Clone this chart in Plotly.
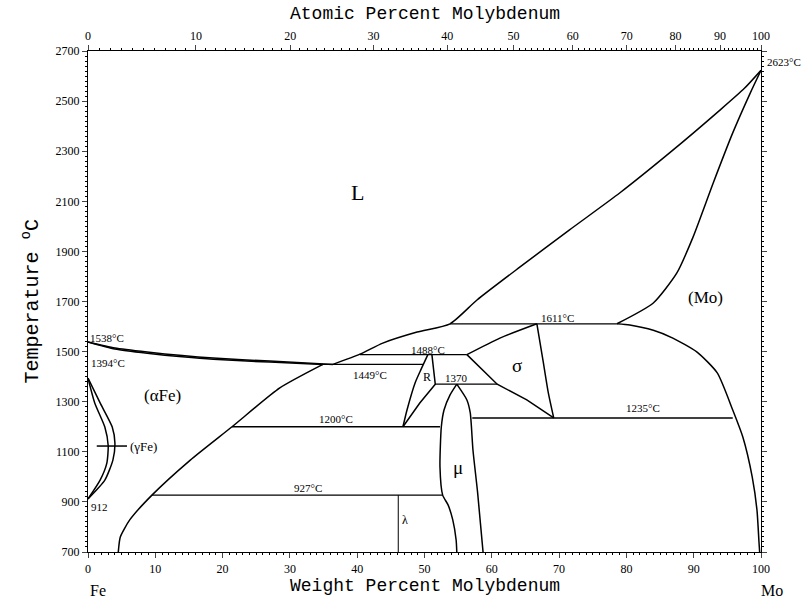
import plotly.graph_objects as go

# ---------------- data (weight % Mo, temperature °C) ----------------
liq_fe_wt = [0, 4, 8.8, 14, 18.6, 27, 36.4]
liq_fe_T = [1538, 1514, 1498, 1484, 1474, 1462, 1449]

sol_fe_wt = [0, 4, 8.8, 14, 18.6, 27, 34.9]
sol_fe_T = [1538, 1510, 1493, 1479, 1469, 1458, 1449]

liq_wt = [36.4, 40.4, 43.8, 48.9, 53.8, 57.8, 64.2, 71.5, 79.0, 86.5, 93.9, 97.5, 100]
liq_T = [1449, 1490, 1534, 1578, 1611, 1706, 1838, 1985, 2133, 2295, 2464, 2550, 2623]

mo_sol_wt = [78.6, 84.0, 87.5, 89.9, 92.9, 95.8, 98.4, 100]
mo_sol_T = [1611, 1694, 1814, 1957, 2173, 2373, 2532, 2623]

mo_solv_wt = [78.6, 80.5, 84.0, 86.9, 90.5, 93.5, 95.8, 97.3, 98.7, 99.4, 99.7, 99.8]
mo_solv_T = [1611, 1606, 1585, 1554, 1498, 1415, 1267, 1159, 999, 868, 740, 700]

afe_solv_wt = [4.5, 4.8, 6.2, 9.5, 15.2, 21.4, 28.5, 34.9]
afe_solv_T = [700, 760, 828, 927, 1067, 1200, 1355, 1449]

gam_out_wt = [0, 1.8, 3.6, 4.0, 3.7, 2.5, 0]
gam_out_T = [1394, 1295, 1199, 1135, 1067, 987, 912]
gam_in_wt = [0, 1.0, 2.5, 3.0, 2.8, 1.8, 0]
gam_in_T = [1394, 1295, 1199, 1125, 1055, 987, 912]
gam_tick_wt = [1.3, 5.8]
gam_tick_T = [1123, 1123]

r_left_wt = [50.5, 49.5, 48.6, 47.4, 46.8]
r_left_T = [1488, 1430, 1375, 1267, 1200]
r_right_wt = [51.1, 51.6, 49.3, 46.8]
r_right_T = [1488, 1370, 1295, 1200]

mu_left_wt = [54.8, 53.8, 52.9, 52.5, 52.3, 52.7, 53.5, 54.2, 54.7, 54.8]
mu_left_T = [1370, 1327, 1267, 1200, 1039, 927, 888, 828, 748, 700]
mu_right_wt = [54.8, 56.3, 56.8, 57.2, 57.9, 58.7]
mu_right_T = [1370, 1307, 1255, 1107, 935, 700]

sig_top_wt = [56.3, 61.2, 66.7]
sig_top_T = [1488, 1554, 1611]
sig_right_wt = [66.7, 67.6, 68.4, 69.2]
sig_right_T = [1611, 1466, 1335, 1235]
sig_low_wt = [56.3, 60.8, 65.2, 69.2]
sig_low_T = [1488, 1370, 1307, 1235]

lam_wt = [46.1, 46.1]
lam_T = [927, 700]

iso_T = [1449, 1488, 1370, 1611, 1235, 1200, 927]
iso_x0 = [34.9, 40.4, 51.6, 53.8, 57.1, 21.4, 9.5]
iso_x1 = [49.8, 56.3, 60.8, 78.6, 95.8, 52.3, 52.7]

lbl_text = ["L", "(Mo)", "(αFe)", "σ", "R", "μ", "λ",
            "1449°C", "1488°C", "1370", "1611°C", "1235°C", "1200°C", "927°C"]
lbl_wt = [40.1, 91.7, 11.1, 63.7, 50.4, 55.0, 47.1,
          41.9, 50.5, 54.8, 69.8, 82.5, 36.9, 32.7]
lbl_T = [2137, 1714, 1323, 1443, 1399, 1039, 828,
         1407, 1508, 1393, 1636, 1273, 1229, 957]
lbl_size = [22, 17, 17, 19, 12, 19, 12,
            11, 11, 11, 11, 11, 11, 11]

left_text = ["1538°C", "1394°C", "912", "(γFe)"]
left_wt = [0, 0.2, 0.1, 6.0]
left_T = [1554, 1455, 878, 1121]

melt_text = "2623°C"
melt_T = 2655

y_ticks = [700, 900, 1100, 1300, 1500, 1700, 1900, 2100, 2300, 2500, 2700]
x_ticks = [0, 10, 20, 30, 40, 50, 60, 70, 80, 90, 100]
at_ticks = [0, 10, 20, 30, 40, 50, 60, 70, 80, 90, 100]

M_FE, M_MO = 55.845, 95.95


def at_to_wt(a):
    return 100.0 * a * M_MO / (a * M_MO + (100 - a) * M_FE)


# ---------------- figure ----------------
fig = go.Figure()


def add(wt, T, w=1.5):
    fig.add_trace(go.Scatter(x=wt, y=T, mode="lines",
                             line=dict(color="black", width=w, shape="spline", smoothing=0.6),
                             hoverinfo="skip", showlegend=False))


for wt, T in [(liq_fe_wt, liq_fe_T), (sol_fe_wt, sol_fe_T), (liq_wt, liq_T),
              (mo_sol_wt, mo_sol_T), (mo_solv_wt, mo_solv_T), (afe_solv_wt, afe_solv_T),
              (gam_out_wt, gam_out_T), (gam_in_wt, gam_in_T),
              (r_left_wt, r_left_T), (mu_left_wt, mu_left_T), (mu_right_wt, mu_right_T),
              (sig_top_wt, sig_top_T), (sig_right_wt, sig_right_T)]:
    add(wt, T)

for wt, T in [(r_right_wt, r_right_T), (sig_low_wt, sig_low_T), (gam_tick_wt, gam_tick_T)]:
    fig.add_trace(go.Scatter(x=wt, y=T, mode="lines", line=dict(color="black", width=1.5),
                             hoverinfo="skip", showlegend=False))

fig.add_trace(go.Scatter(x=lam_wt, y=lam_T, mode="lines", line=dict(color="black", width=1),
                         hoverinfo="skip", showlegend=False))

for T, a, b in zip(iso_T, iso_x0, iso_x1):
    fig.add_trace(go.Scatter(x=[a, b], y=[T, T], mode="lines", line=dict(color="black", width=1.3),
                             hoverinfo="skip", showlegend=False))

# invisible trace for the top (atomic %) axis
fig.add_trace(go.Scatter(x=[0, 100], y=[700, 700], xaxis="x2", mode="lines",
                         line=dict(width=0), hoverinfo="skip", showlegend=False))

for t, x, y, s in zip(lbl_text, lbl_wt, lbl_T, lbl_size):
    fig.add_annotation(x=x, y=y, text=t, showarrow=False,
                       font=dict(family="Liberation Serif", size=s, color="black"))
for t, x, y in zip(left_text, left_wt, left_T):
    fig.add_annotation(x=x, y=y, text=t, showarrow=False, xanchor="left",
                       font=dict(family="Liberation Serif", size=11 if t != "(γFe)" else 13, color="black"))

# melting point of Mo, just outside the right axis
fig.add_annotation(xref="paper", x=1, xshift=4, y=melt_T, text=melt_text, showarrow=False,
                   xanchor="left", font=dict(family="Liberation Serif", size=11, color="black"))

title_font = dict(family="Liberation Mono", size=18, color="black")
fig.add_annotation(xref="paper", yref="paper", x=0.5, y=1, yshift=37, text="Atomic Percent Molybdenum",
                   showarrow=False, font=title_font, yanchor="middle")
fig.add_annotation(xref="paper", yref="paper", x=0.5, y=0, yshift=-34, text="Weight Percent Molybdenum",
                   showarrow=False, font=title_font, yanchor="middle")
fig.add_annotation(xref="paper", yref="paper", x=0, xshift=-58, y=0.5, textangle=-90,
                   xanchor="center", yanchor="middle",
                   text="Temperature <sup>o</sup>C", showarrow=False,
                   font=dict(family="Liberation Mono", size=20, color="black"))
fig.add_annotation(xref="paper", yref="paper", x=0, xshift=10, y=0, yshift=-38, text="Fe",
                   xanchor="center", yanchor="middle",
                   showarrow=False, font=dict(family="Liberation Serif", size=16, color="black"))
fig.add_annotation(xref="paper", yref="paper", x=1, xshift=11, y=0, yshift=-38, text="Mo",
                   xanchor="center", yanchor="middle",
                   showarrow=False, font=dict(family="Liberation Serif", size=16, color="black"))

tick_font = dict(family="Liberation Serif", size=12, color="black")

fig.update_layout(
    width=812, height=598,
    margin=dict(l=88, r=51, t=51, b=46),
    paper_bgcolor="white", plot_bgcolor="white",
    showlegend=False,
    xaxis=dict(range=[0, 100], tickvals=x_ticks, ticks="outside", ticklen=5, tickwidth=1,
               showline=True, linecolor="black", linewidth=1.2, showgrid=False, zeroline=False,
               tickfont=tick_font, mirror=False,
               minor=dict(dtick=1, tick0=0, ticks="outside", ticklen=2, tickcolor="black", showgrid=False)),
    xaxis2=dict(range=[0, 100], overlaying="x", side="top",
                tickvals=[at_to_wt(a) for a in at_ticks], ticktext=[str(a) for a in at_ticks],
                ticks="outside", ticklen=5, tickwidth=1, showline=True, linecolor="black", linewidth=1.2,
                showgrid=False, zeroline=False, tickfont=tick_font,
                minor=dict(tickmode="array", tickvals=[at_to_wt(a) for a in range(0, 101)],
                           ticks="outside", ticklen=2, tickcolor="black", showgrid=False)),
    yaxis=dict(range=[700, 2700], tickvals=y_ticks, ticks="outside", ticklen=5, tickwidth=1,
               showline=True, linecolor="black", linewidth=1.2, showgrid=False, zeroline=False,
               tickfont=tick_font, mirror="ticks",
               minor=dict(dtick=20, tick0=700, ticks="outside", ticklen=2, tickcolor="black", showgrid=False)),
)

fig.write_html("out.html", config={"displayModeBar": False},
               post_script="document.body.style.margin='0';document.body.style.overflow='hidden';")
